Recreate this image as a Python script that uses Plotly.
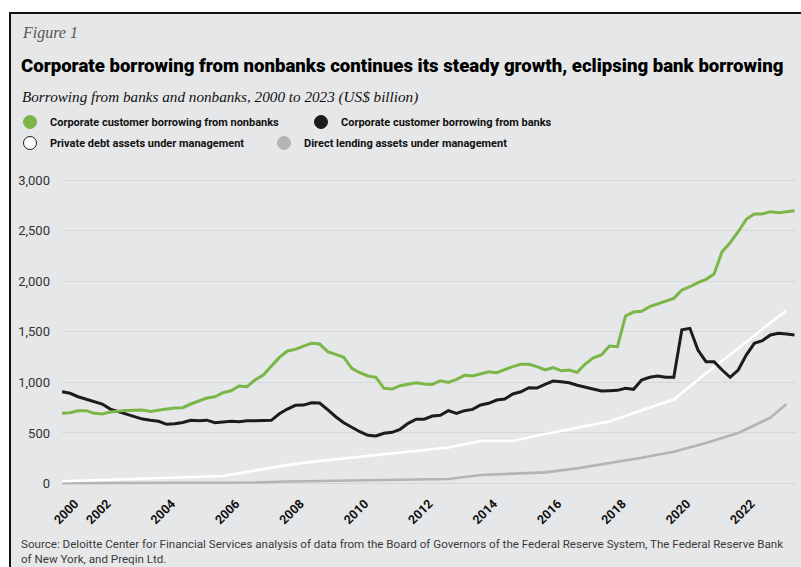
import plotly.graph_objects as go

# ---------------- data (US$ billion) ----------------
# quarterly series, plotted at period-end positions (decimal years)
quarter_pos = [2001.0 + 0.25 * k for k in range(92)]

nonbank_borrowing = [
    694, 700, 720, 720, 694, 687, 707, 717, 723, 725,
    727, 713, 727, 736, 746, 750, 786, 812, 845, 858,
    898, 917, 964, 957, 1025, 1072, 1155, 1247, 1310, 1326,
    1359, 1386, 1379, 1303, 1277, 1247, 1139, 1095, 1063, 1050,
    941, 934, 967, 980, 996, 983, 980, 1016, 1000, 1030,
    1069, 1063, 1082, 1105, 1095, 1129, 1155, 1178, 1178, 1155,
    1122, 1145, 1115, 1122, 1099, 1181, 1243, 1270, 1359, 1352,
    1656, 1695, 1702, 1748, 1774, 1801, 1830, 1913, 1945, 1985,
    2018, 2071, 2292, 2380, 2489, 2611, 2664, 2664, 2687, 2677,
    2687, 2697,
]

bank_borrowing = [
    907, 892, 858, 835, 805, 786, 736, 710, 690, 663,
    637, 625, 615, 585, 590, 603, 625, 621, 626, 601,
    605, 615, 611, 621, 621, 621, 625, 690, 736, 773,
    775, 799, 796, 730, 660, 601, 555, 512, 476, 470,
    496, 506, 536, 595, 635, 636, 667, 674, 720, 694,
    720, 733, 776, 793, 825, 835, 885, 907, 947, 944,
    980, 1013, 1006, 996, 971, 951, 937, 914, 917, 921,
    941, 931, 1023, 1050, 1063, 1050, 1050, 1520, 1534, 1320,
    1204, 1204, 1122, 1050, 1122, 1270, 1386, 1412, 1468, 1485,
    1478, 1468,
]

# annual series (year-end positions; last point mid-2023)
annual_pos = [2001, 2002, 2003, 2004, 2005, 2006, 2007, 2008, 2009, 2010,
              2011, 2012, 2013, 2014, 2015, 2016, 2017, 2018, 2019, 2020,
              2021, 2022, 2023, 2023.5]
private_debt_aum = [22, 32, 42, 50, 60, 74, 128, 183, 222, 257,
                    292, 321, 356, 420, 420, 489, 549, 613, 725, 830,
                    1090, 1335, 1590, 1710]
direct_lending_aum = [2, 3, 4, 5, 6, 7, 10, 20, 25, 28,
                      33, 38, 44, 84, 94, 110, 150, 200, 255, 315,
                      400, 500, 650, 785]

xtick_vals = [2001.0, 2002, 2004, 2006, 2008, 2010, 2012, 2014, 2016, 2018, 2020, 2022]
xtick_text = ["2000", "2002", "2004", "2006", "2008", "2010", "2012", "2014",
              "2016", "2018", "2020", "2022"]
ytick_vals = [0, 500, 1000, 1500, 2000, 2500, 3000]

names = ["Corporate customer borrowing from nonbanks",
         "Corporate customer borrowing from banks",
         "Private debt assets under management",
         "Direct lending assets under management"]

source_lines = ["Source: Deloitte Center for Financial Services analysis of data from the Board of Governors of the Federal Reserve System, The Federal Reserve Bank",
                "of New York, and Preqin Ltd."]

# ---------------- styling ----------------
W_FIG, H_FIG = 801, 567
L, R, T, B = 62, 4, 170, 77
PW, PH = W_FIG - L - R, H_FIG - T - B

def px(x):
    return (x - L) / PW

def py(y):
    return (T + PH - y) / PH

GREEN = "#7ab648"
BLACK = "#1c1c1c"
WHITE = "#ffffff"
GRAY = "#b4b4b4"
BG = "#e6e7e8"
SANS = "Roboto, Liberation Sans, sans-serif"
SERIF = "Liberation Serif, DejaVu Serif, serif"

fig = go.Figure()

series = [
    (annual_pos, direct_lending_aum, GRAY, 2.6),
    (annual_pos, private_debt_aum, WHITE, 2.6),
    (quarter_pos, bank_borrowing, BLACK, 3.0),
    (quarter_pos, nonbank_borrowing, GREEN, 3.0),
]
series_names = [names[3], names[2], names[1], names[0]]
for (xs, ys, col, w), nm in zip(series, series_names):
    fig.add_trace(go.Scatter(x=xs, y=ys, mode="lines", name=nm,
                             line=dict(color=col, width=w),
                             showlegend=False, hoverinfo="skip"))

# legend entries (circle markers)
leg_specs = [
    (names[0], GREEN, GREEN, "legend"),
    (names[1], BLACK, BLACK, "legend"),
    (names[2], WHITE, "#1c1c1c", "legend2"),
    (names[3], GRAY, GRAY, "legend2"),
]
for nm, fill, edge, lg in leg_specs:
    fig.add_trace(go.Scatter(x=[None], y=[None], mode="markers", name=nm,
                             marker=dict(size=13, color=fill,
                                         line=dict(color=edge, width=1)),
                             legend=lg, showlegend=True))

LEG_FONT = dict(family=SANS, size=11, color="#111111", weight="bold")
fig.update_layout(
    width=W_FIG, height=H_FIG,
    margin=dict(l=L, r=R, t=T, b=B, pad=0),
    paper_bgcolor="white",
    plot_bgcolor="rgba(0,0,0,0)",
    showlegend=True,
    legend=dict(orientation="h", x=px(10), xanchor="left", y=py(122), yanchor="middle",
                entrywidth=246, entrywidthmode="pixels", font=LEG_FONT,
                bgcolor="rgba(0,0,0,0)", borderwidth=0, itemclick=False),
    legend2=dict(orientation="h", x=px(10), xanchor="left", y=py(143), yanchor="middle",
                 entrywidth=209, entrywidthmode="pixels", font=LEG_FONT,
                 bgcolor="rgba(0,0,0,0)", borderwidth=0, itemclick=False),
    xaxis=dict(range=[2001.0, 2001.0 + PW / 32.2], showgrid=False, zeroline=False,
               showline=False, ticks="", tickmode="array",
               tickvals=xtick_vals, ticktext=xtick_text, tickangle=-45,
               ticklabelshift=13, ticklabelstandoff=3,
               tickfont=dict(family=SANS, size=12.5, color="#111111", weight="bold")),
    yaxis=dict(range=[-64, 3099], tickmode="array", tickvals=ytick_vals,
               tickformat=",", showgrid=True, gridcolor="#d6d7d8", gridwidth=1,
               zeroline=False, showline=False, ticks="",
               ticklabelstandoff=11,
               tickfont=dict(family=SANS, size=13, color="#333333")),
    shapes=[dict(type="rect", xref="paper", yref="paper",
                 x0=px(10), x1=px(830), y0=py(600), y1=py(13),
                 fillcolor=BG, line=dict(color="#111111", width=2), layer="below")],
)

annos = [
    dict(text="<i>Figure 1</i>", x=px(20), y=py(33), yanchor="middle",
         font=dict(family=SERIF, size=16, color="#555555")),
    dict(text="Corporate borrowing from nonbanks continues its steady growth, eclipsing bank borrowing",
         x=px(19), y=py(66), yanchor="middle",
         font=dict(family=SANS, size=18.6, color="#000000", weight=900)),
    dict(text="<i>Borrowing from banks and nonbanks, 2000 to 2023 (US$ billion)</i>",
         x=px(20), y=py(97), yanchor="middle",
         font=dict(family=SERIF, size=15.2, color="#111111")),
    dict(text="<br>".join(source_lines), x=px(20), y=py(567), yanchor="bottom",
         align="left", borderpad=0,
         font=dict(family=SANS, size=11.6, color="#3a3a3a")),
]
for a in annos:
    fig.add_annotation(xref="paper", yref="paper", xanchor="left",
                       showarrow=False, **a)

fig.write_html("out.html")
